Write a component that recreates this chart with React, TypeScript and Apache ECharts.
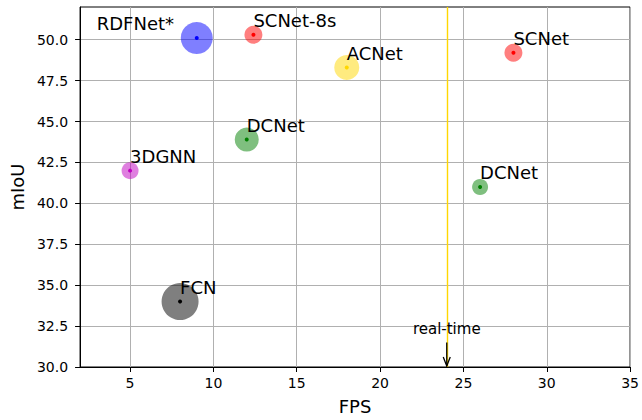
import React, { useEffect, useRef } from "react";
import * as echarts from "echarts";

// ---- data ----
const names = ["RDFNet*", "SCNet-8s", "ACNet", "DCNet", "3DGNN", "FCN", "SCNet", "DCNet"];
const fps = [9, 12.4, 18, 12, 5, 8, 28, 26];
const miou = [50.1, 50.3, 48.3, 43.9, 42.0, 34.0, 49.2, 41.0];
// annotation anchors (data coordinates) for the method names
const labelFps = [3, 12.4, 18, 12, 5, 8, 28, 26];
const labelMiou = [50.6, 50.8, 48.8, 44.4, 42.5, 34.5, 49.7, 41.5];
const xTicks = [5, 10, 15, 20, 25, 30, 35];
const yTicks = [30, 32.5, 35, 37.5, 40, 42.5, 45, 47.5, 50];
const realTimeFps = 24;
const arrowFrom = 31.5;
const arrowTo = 30;
const realTimeText = "real-time";

// ---- styles ----
const colors = ["#0000ff", "#ff0000", "#ffd700", "#008000", "#bf00bf", "#000000", "#ff0000", "#008000"];
const markerSize = [32, 18, 25, 24, 17, 37, 18, 16];
const FONT = "DejaVu Sans";

export default function App() {
  const ref = useRef<HTMLDivElement>(null);

  useEffect(() => {
    document.body.style.margin = "0";
    const chart = echarts.init(ref.current!, null, { renderer: "svg" });

    const option: any = {
      animation: false,
      textStyle: { fontFamily: FONT },
      grid: {
        left: 78,
        right: 9.5,
        top: 7,
        bottom: 52.5,
        show: true,
        borderColor: "#000",
        borderWidth: 1,
        backgroundColor: "transparent",
      },
      xAxis: {
        type: "value",
        min: 2,
        max: 35,
        name: "FPS",
        nameLocation: "middle",
        nameGap: 30,
        nameTextStyle: { fontSize: 18, color: "#000", fontFamily: FONT },
        axisLine: { show: true, onZero: false, lineStyle: { color: "#000", width: 1 } },
        axisTick: { show: true, length: 5, customValues: xTicks, lineStyle: { color: "#000", width: 1 } },
        axisLabel: { customValues: xTicks, fontSize: 14, color: "#000", margin: 9, fontFamily: FONT },
        splitLine: { show: true, lineStyle: { color: "#b0b0b0", width: 1 } },
      },
      yAxis: {
        type: "value",
        min: 30,
        max: 52,
        name: "mIoU",
        nameLocation: "middle",
        nameGap: 54,
        nameTextStyle: { fontSize: 18, color: "#000", fontFamily: FONT },
        axisLine: { show: true, onZero: false, lineStyle: { color: "#000", width: 1 } },
        axisTick: { show: true, length: 5, customValues: yTicks, lineStyle: { color: "#000", width: 1 } },
        axisLabel: {
          customValues: yTicks,
          fontSize: 14,
          color: "#000",
          margin: 12,
          fontFamily: FONT,
          formatter: (v: number) => v.toFixed(1),
        },
        splitLine: { show: true, lineStyle: { color: "#b0b0b0", width: 1 } },
      },
      series: [
        {
          type: "scatter",
          z: 2,
          data: fps.map((x, i) => ({
            value: [x, miou[i]],
            symbolSize: markerSize[i],
            itemStyle: { color: colors[i], opacity: 0.5 },
          })),
          markLine: {
            silent: true,
            symbol: ["none", "none"],
            label: { show: false },
            lineStyle: { color: "#ffd700", width: 1.4, type: "solid", opacity: 1 },
            data: [{ xAxis: realTimeFps }],
            z: 3,
          },
        },
        {
          type: "scatter",
          z: 4,
          symbolSize: 4,
          data: fps.map((x, i) => ({
            value: [x, miou[i]],
            itemStyle: { color: colors[i], opacity: 1 },
          })),
        },
        {
          type: "custom",
          z: 5,
          clip: false,
          data: labelFps.map((x, i) => [x, labelMiou[i]]),
          renderItem: (params: any, api: any) => {
            const p = api.coord([api.value(0), api.value(1)]);
            return {
              type: "text",
              x: p[0],
              y: p[1] - 6,
              style: {
                text: names[params.dataIndex],
                fontSize: 18,
                fontFamily: FONT,
                fill: "#000",
                align: "left",
                verticalAlign: "middle",
              },
            };
          },
        },
        {
          type: "custom",
          z: 6,
          clip: false,
          data: [[realTimeFps, arrowFrom, arrowTo]],
          renderItem: (params: any, api: any) => {
            const a = api.coord([api.value(0), api.value(1)]);
            const b = api.coord([api.value(0), api.value(2)]);
            return {
              type: "group",
              children: [
                {
                  type: "line",
                  shape: { x1: a[0], y1: a[1], x2: b[0], y2: b[1] - 0.5 },
                  style: { stroke: "#000", lineWidth: 1.3 },
                },
                {
                  type: "polyline",
                  shape: {
                    points: [
                      [b[0] - 3.5, b[1] - 10],
                      [b[0], b[1] - 1],
                      [b[0] + 3.5, b[1] - 10],
                    ],
                  },
                  style: { stroke: "#000", lineWidth: 1.3, fill: "none" },
                },
                {
                  type: "text",
                  x: a[0],
                  y: a[1] - 13,
                  style: {
                    text: realTimeText,
                    fontSize: 15,
                    fontFamily: FONT,
                    fill: "#000",
                    align: "center",
                    verticalAlign: "middle",
                  },
                },
              ],
            };
          },
        },
      ],
    };

    chart.setOption(option);
    return () => chart.dispose();
  }, []);

  return <div ref={ref} style={{ width: 642, height: 420 }} />;
}
